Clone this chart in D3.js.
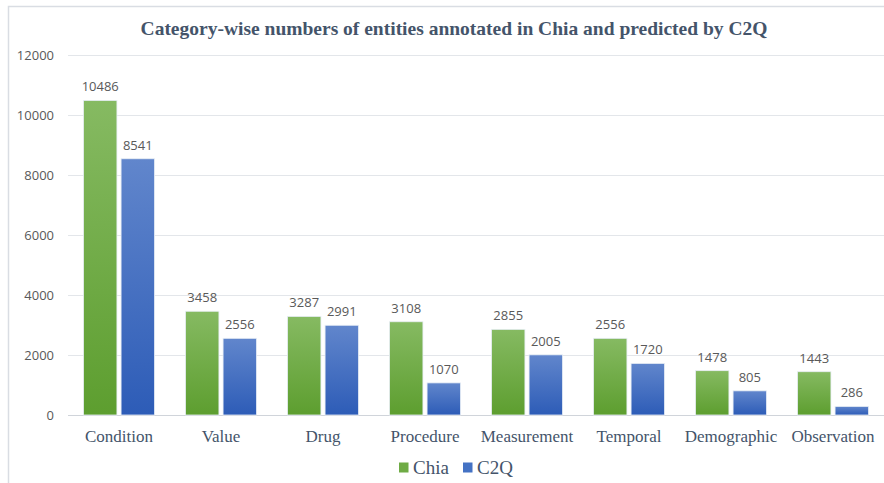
<!DOCTYPE html>
<html>
<head>
<meta charset="utf-8">
<script src="https://cdn.jsdelivr.net/npm/d3@7"></script>
<style>
  body { margin: 0; background: #fff; }
  svg { display: block; }
</style>
</head>
<body>
<svg id="chart" width="884" height="483"></svg>
<script>
// datos del grafico
const categorias = ["Condition", "Value", "Drug", "Procedure", "Measurement", "Temporal", "Demographic", "Observation"];
const series = ["Chia", "C2Q"];
const valoresChia = [10486, 3458, 3287, 3108, 2855, 2556, 1478, 1443];
const valoresC2Q = [8541, 2556, 2991, 1070, 2005, 1720, 805, 286];
const ticksY = [0, 2000, 4000, 6000, 8000, 10000, 12000];

const svg = d3.select("#chart");
const margen = { left: 68, right: 884, top: 55, bottom: 415 };

// borde del area del grafico
svg.append("path")
    .attr("d", "M8.5,483 L8.5,6.5 L884,6.5")
    .attr("fill", "none")
    .attr("stroke", "#d9dde3")
    .attr("stroke-width", 1.5);

// degradados de las barras
const defs = svg.append("defs");
function degradado(id, arriba, abajo) {
  const g = defs.append("linearGradient").attr("id", id)
      .attr("x1", 0).attr("y1", 0).attr("x2", 0).attr("y2", 1);
  g.append("stop").attr("offset", "0%").attr("stop-color", arriba);
  g.append("stop").attr("offset", "100%").attr("stop-color", abajo);
}
degradado("gradChia", "#86ba62", "#5d9e2f");
degradado("gradC2Q", "#6186cc", "#2d5cb7");
const colores = { Chia: "url(#gradChia)", C2Q: "url(#gradC2Q)" };
const coloresLeyenda = { Chia: "#6fab45", C2Q: "#4472c4" };

const x = d3.scaleBand().domain(categorias).range([margen.left, margen.right]).paddingInner(0).paddingOuter(0);
const xs = d3.scaleBand().domain(series).range([15.5, x.bandwidth() - 15.5]).paddingInner(0.11);
const y = d3.scaleLinear().domain([0, 12000]).range([margen.bottom, margen.top]);

// lineas de la grilla
svg.append("g").selectAll("line").data(ticksY).enter().append("line")
    .attr("x1", margen.left).attr("x2", margen.right)
    .attr("y1", d => Math.round(y(d)) + 0.5).attr("y2", d => Math.round(y(d)) + 0.5)
    .attr("stroke", d => d === 0 ? "#d0d4da" : "#e3e6ea")
    .attr("stroke-width", 1);

// eje y
const ejeY = d3.axisLeft(y).tickValues(ticksY).tickFormat(d3.format("d")).tickSize(0).tickPadding(0);
svg.append("g").attr("transform", "translate(54,0)").call(ejeY)
    .call(g => g.select(".domain").remove())
    .selectAll("text")
    .attr("font-family", "'Open Sans', sans-serif")
    .attr("font-size", 13)
    .attr("fill", "#595959");

// barras
const datos = [];
categorias.forEach((c, i) => {
  datos.push({ cat: c, serie: "Chia", valor: valoresChia[i] });
  datos.push({ cat: c, serie: "C2Q", valor: valoresC2Q[i] });
});

const grupoBarras = svg.append("g");
grupoBarras.selectAll("rect").data(datos).enter().append("rect")
    .attr("x", d => x(d.cat) + xs(d.serie))
    .attr("y", d => y(d.valor))
    .attr("width", xs.bandwidth())
    .attr("height", d => y(0) - y(d.valor))
    .attr("fill", d => colores[d.serie])
    .attr("stroke", "#e8eef5")
    .attr("stroke-width", 0.8);

// etiquetas de valores
grupoBarras.selectAll("text").data(datos).enter().append("text")
    .attr("x", d => x(d.cat) + xs(d.serie) + xs.bandwidth() / 2)
    .attr("y", d => y(d.valor) - 9)
    .attr("text-anchor", "middle")
    .attr("font-family", "'Open Sans', sans-serif")
    .attr("font-size", 13)
    .attr("fill", "#595959")
    .text(d => d.valor);

// eje x
const ejeX = d3.axisBottom(x).tickSize(0).tickPadding(0);
svg.append("g").attr("transform", "translate(0," + (margen.bottom + 27) + ")").call(ejeX)
    .call(g => g.select(".domain").remove())
    .selectAll("text")
    .attr("dy", 0)
    .attr("font-family", "'Liberation Serif', serif")
    .attr("font-size", 17)
    .attr("fill", "#44546a");

// titulo
svg.append("text")
    .attr("x", 454).attr("y", 35)
    .attr("text-anchor", "middle")
    .attr("font-family", "'Liberation Serif', serif")
    .attr("font-weight", "bold")
    .attr("font-size", 19.5)
    .attr("fill", "#44546a")
    .text("Category-wise numbers of entities annotated in Chia and predicted by C2Q");

// leyenda
const leyenda = svg.append("g").attr("transform", "translate(399,474)");
const posLeyenda = [0, 64];
series.forEach((s, i) => {
  const g = leyenda.append("g").attr("transform", "translate(" + posLeyenda[i] + ",0)");
  g.append("rect").attr("x", 0).attr("y", -11.5).attr("width", 9.5).attr("height", 10)
      .attr("fill", coloresLeyenda[s]);
  g.append("text").attr("x", 14).attr("y", 0)
      .attr("font-family", "'Liberation Serif', serif")
      .attr("font-size", 19)
      .attr("fill", "#44546a")
      .text(s);
});
</script>
</body>
</html>
